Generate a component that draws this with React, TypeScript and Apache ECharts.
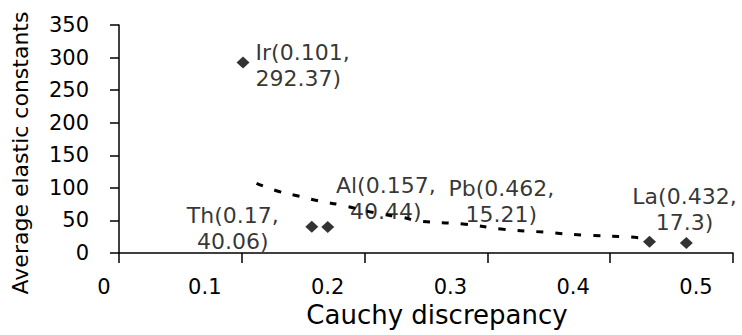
import React, { useEffect, useRef } from "react";
import * as echarts from "echarts";

const xTickLabels = ["0", "0.1", "0.2", "0.3", "0.4", "0.5"];
const pointNames = ["Ir", "Al", "Th", "La", "Pb"];
const pointX = [0.101, 0.157, 0.17, 0.432, 0.462];
const pointY = [292.37, 40.44, 40.06, 17.3, 15.21];
const trendX = [0.112, 0.131, 0.147, 0.165, 0.18, 0.21, 0.23, 0.245, 0.28, 0.313, 0.346, 0.378, 0.412, 0.428];
const trendY = [107, 94, 87, 79, 74, 61, 55, 49, 44.5, 36.5, 32, 27.5, 25, 22.5];

const FONT = "'DejaVu Sans', 'Liberation Sans', Arial, sans-serif";
const INK = "#000000";

// label placement (as in the reference figure)
const labelPlacement: Record<string, any> = {
  Ir: { position: "right", distance: 6, offset: [0, 3], align: "left" },
  Th: { position: "inside", offset: [-95, 2], align: "center" },
  Al: { position: "inside", offset: [74, -28], align: "center" },
  Pb: { position: "inside", offset: [-185, -42], align: "center" },
  La: { position: "inside", offset: [35, -32], align: "center" },
};

export default function App() {
  const ref = useRef<HTMLDivElement>(null);
  useEffect(() => {
    if (!ref.current) return;
    const chart = echarts.init(ref.current, null, { renderer: "svg" });
    const scatterData = pointNames.map((n, i) => ({
      name: n,
      value: [pointX[i], pointY[i]],
      label: {
        show: true,
        formatter: `${n}(${pointX[i]},\n${pointY[i]})`,
        verticalAlign: "middle",
        ...labelPlacement[n],
      },
    }));
    chart.setOption({
      animation: false,
      backgroundColor: "#ffffff",
      grid: { left: 119, right: 9, top: 25, bottom: 82, containLabel: false },
      xAxis: {
        type: "value",
        min: 0,
        max: 0.5,
        interval: 0.1,
        name: "Cauchy discrepancy",
        nameLocation: "middle",
        nameGap: 48,
        nameTextStyle: { fontFamily: FONT, fontSize: 26, color: INK, padding: [0, 0, 0, 22] },
        axisLine: { show: true, onZero: false, lineStyle: { color: INK, width: 1.5 } },
        axisTick: { show: true, inside: false, length: 10, lineStyle: { color: INK, width: 1.5 } },
        splitLine: { show: false },
        axisLabel: {
          margin: 23,
          fontFamily: FONT,
          fontSize: 21,
          color: INK,
          formatter: (v: number) => {
            const idx = Math.round(v / 0.1);
            const t = xTickLabels[idx] ?? String(v);
            return idx === 0 ? `{z|${t}}` : `{s|${t}}`;
          },
          rich: {
            s: { fontFamily: FONT, fontSize: 21, color: INK, padding: [0, 74, 0, 0] },
            z: { fontFamily: FONT, fontSize: 21, color: INK, padding: [0, 30, 0, 0] },
          },
        },
      },
      yAxis: {
        type: "value",
        min: 0,
        max: 350,
        interval: 50,
        name: "Average elastic constants",
        nameLocation: "middle",
        nameRotate: 90,
        nameGap: 88,
        nameTextStyle: { fontFamily: FONT, fontSize: 22, color: INK, padding: [0, 28, 0, 0] },
        axisLine: { show: true, onZero: false, lineStyle: { color: INK, width: 1.5 } },
        axisTick: { show: true, inside: false, length: 9, lineStyle: { color: INK, width: 1.5 } },
        splitLine: { show: false },
        axisLabel: { margin: 30, fontFamily: FONT, fontSize: 21, color: INK },
      },
      series: [
        {
          type: "line",
          data: trendX.map((x, i) => [x, trendY[i]]),
          smooth: true,
          showSymbol: false,
          symbol: "none",
          lineStyle: { color: INK, width: 3, type: [7, 12] },
          z: 1,
        },
        {
          type: "scatter",
          symbol: "diamond",
          symbolSize: [13, 12],
          itemStyle: { color: "#000" },
          data: scatterData,
          label: { fontFamily: FONT, fontSize: 22, color: INK, lineHeight: 26 },
          z: 3,
        },
      ],
    });
    return () => chart.dispose();
  }, []);
  return (
    <div
      ref={ref}
      style={{ position: "fixed", left: 0, top: 0, width: 742, height: 335, background: "#fff" }}
    />
  );
}
